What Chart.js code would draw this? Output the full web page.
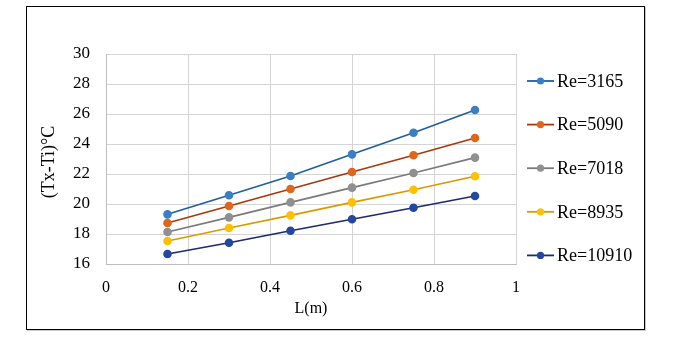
<!DOCTYPE html>
<html>
<head>
<meta charset="utf-8">
<script src="https://cdn.jsdelivr.net/npm/chart.js@4.4.1/dist/chart.umd.min.js"></script>
<style>
  html, body { margin: 0; padding: 0; background: #fff; }
  #wrap { position: relative; width: 694px; height: 338px; }
  #frame {
    position: absolute; left: 26px; top: 6px; width: 617px; height: 322px;
    border: 1px solid #000; box-shadow: 1px 1px 0 #c8c8c8; pointer-events: none;
  }
  canvas { position: absolute; left: 0; top: 0; }
</style>
</head>
<body>
<div id="wrap">
  <canvas id="chart" width="694" height="338"></canvas>
  <div id="frame"></div>
</div>
<script>
// данные
const lengths = [0.15, 0.3, 0.45, 0.6, 0.75, 0.9];
const seriesNames = ['Re=3165', 'Re=5090', 'Re=7018', 'Re=8935', 'Re=10910'];
const re3165 = [19.31, 20.58, 21.87, 23.31, 24.75, 26.27];
const re5090 = [18.73, 19.87, 21.00, 22.13, 23.25, 24.40];
const re7018 = [18.13, 19.11, 20.11, 21.09, 22.07, 23.09];
const re8935 = [17.53, 18.40, 19.24, 20.11, 20.95, 21.85];
const re10910 = [16.67, 17.42, 18.22, 18.98, 19.75, 20.53];
const xTicks = [0, 0.2, 0.4, 0.6, 0.8, 1];
const yTicks = [16, 18, 20, 22, 24, 26, 28, 30];

const lineColors = ['#1f5f9e', '#a8380c', '#7a7a7a', '#d99a00', '#1c2a6e'];
const markerColors = ['#3a7fc4', '#e0661c', '#909090', '#ffc000', '#2448a0'];
const allValues = [re3165, re5090, re7018, re8935, re10910];

const serif = "'Liberation Serif', 'Times New Roman', serif";

const datasets = allValues.map((vals, i) => ({
  label: seriesNames[i],
  data: vals.map((v, k) => ({ x: lengths[k], y: v })),
  borderColor: lineColors[i],
  backgroundColor: markerColors[i],
  pointBackgroundColor: markerColors[i],
  pointBorderColor: markerColors[i],
  pointRadius: 3.5,
  borderWidth: 1.6,
  tension: 0
}));

// легенда и подписи осей
const extras = {
  id: 'extras',
  afterDraw(chart) {
    const ctx = chart.ctx;
    ctx.save();
    // легенда
    ctx.font = '18px ' + serif;
    ctx.textBaseline = 'middle';
    ctx.textAlign = 'left';
    seriesNames.forEach((name, i) => {
      const y = 81 + i * 43.6;
      ctx.strokeStyle = lineColors[i];
      ctx.lineWidth = 1.8;
      ctx.beginPath();
      ctx.moveTo(527, y);
      ctx.lineTo(554, y);
      ctx.stroke();
      ctx.fillStyle = markerColors[i];
      ctx.beginPath();
      ctx.arc(540.5, y, 3.6, 0, Math.PI * 2);
      ctx.fill();
      ctx.fillStyle = '#000';
      ctx.fillText(name, 557, y + 1);
    });
    // подпись оси Y
    ctx.font = '18px ' + serif;
    ctx.textAlign = 'center';
    ctx.translate(49, 162);
    ctx.rotate(-Math.PI / 2);
    ctx.fillText('(Tx-Ti)°C', 0, 0);
    ctx.restore();
    // подпись оси X
    ctx.save();
    ctx.font = '16px ' + serif;
    ctx.fillStyle = '#000';
    ctx.textAlign = 'center';
    ctx.textBaseline = 'middle';
    ctx.fillText('L(m)', 311, 309);
    ctx.restore();
  }
};

new Chart(document.getElementById('chart'), {
  type: 'line',
  data: { datasets: datasets },
  options: {
    responsive: false,
    animation: false,
    layout: { padding: { left: 0, top: 54, right: 178, bottom: 0 } },
    plugins: {
      legend: { display: false },
      tooltip: { enabled: false }
    },
    scales: {
      x: {
        type: 'linear',
        min: 0,
        max: 1,
        afterFit: s => { s.height = 74; },
        afterBuildTicks: s => { s.ticks = xTicks.map(v => ({ value: v })); },
        grid: { color: '#d4d4d4', lineWidth: 1, drawTicks: false },
        border: { color: '#bdbdbd', width: 1 },
        ticks: {
          padding: 14,
          color: '#000',
          font: { family: serif, size: 16 },
          callback: v => String(v)
        }
      },
      y: {
        min: 16,
        max: 30,
        afterFit: s => { s.width = 106; },
        afterBuildTicks: s => { s.ticks = yTicks.map(v => ({ value: v })); },
        grid: { color: '#d4d4d4', lineWidth: 1, drawTicks: false },
        border: { color: '#bdbdbd', width: 1 },
        ticks: {
          padding: 16,
          color: '#000',
          font: { family: serif, size: 17 }
        }
      }
    }
  },
  plugins: [extras]
});
</script>
</body>
</html>
